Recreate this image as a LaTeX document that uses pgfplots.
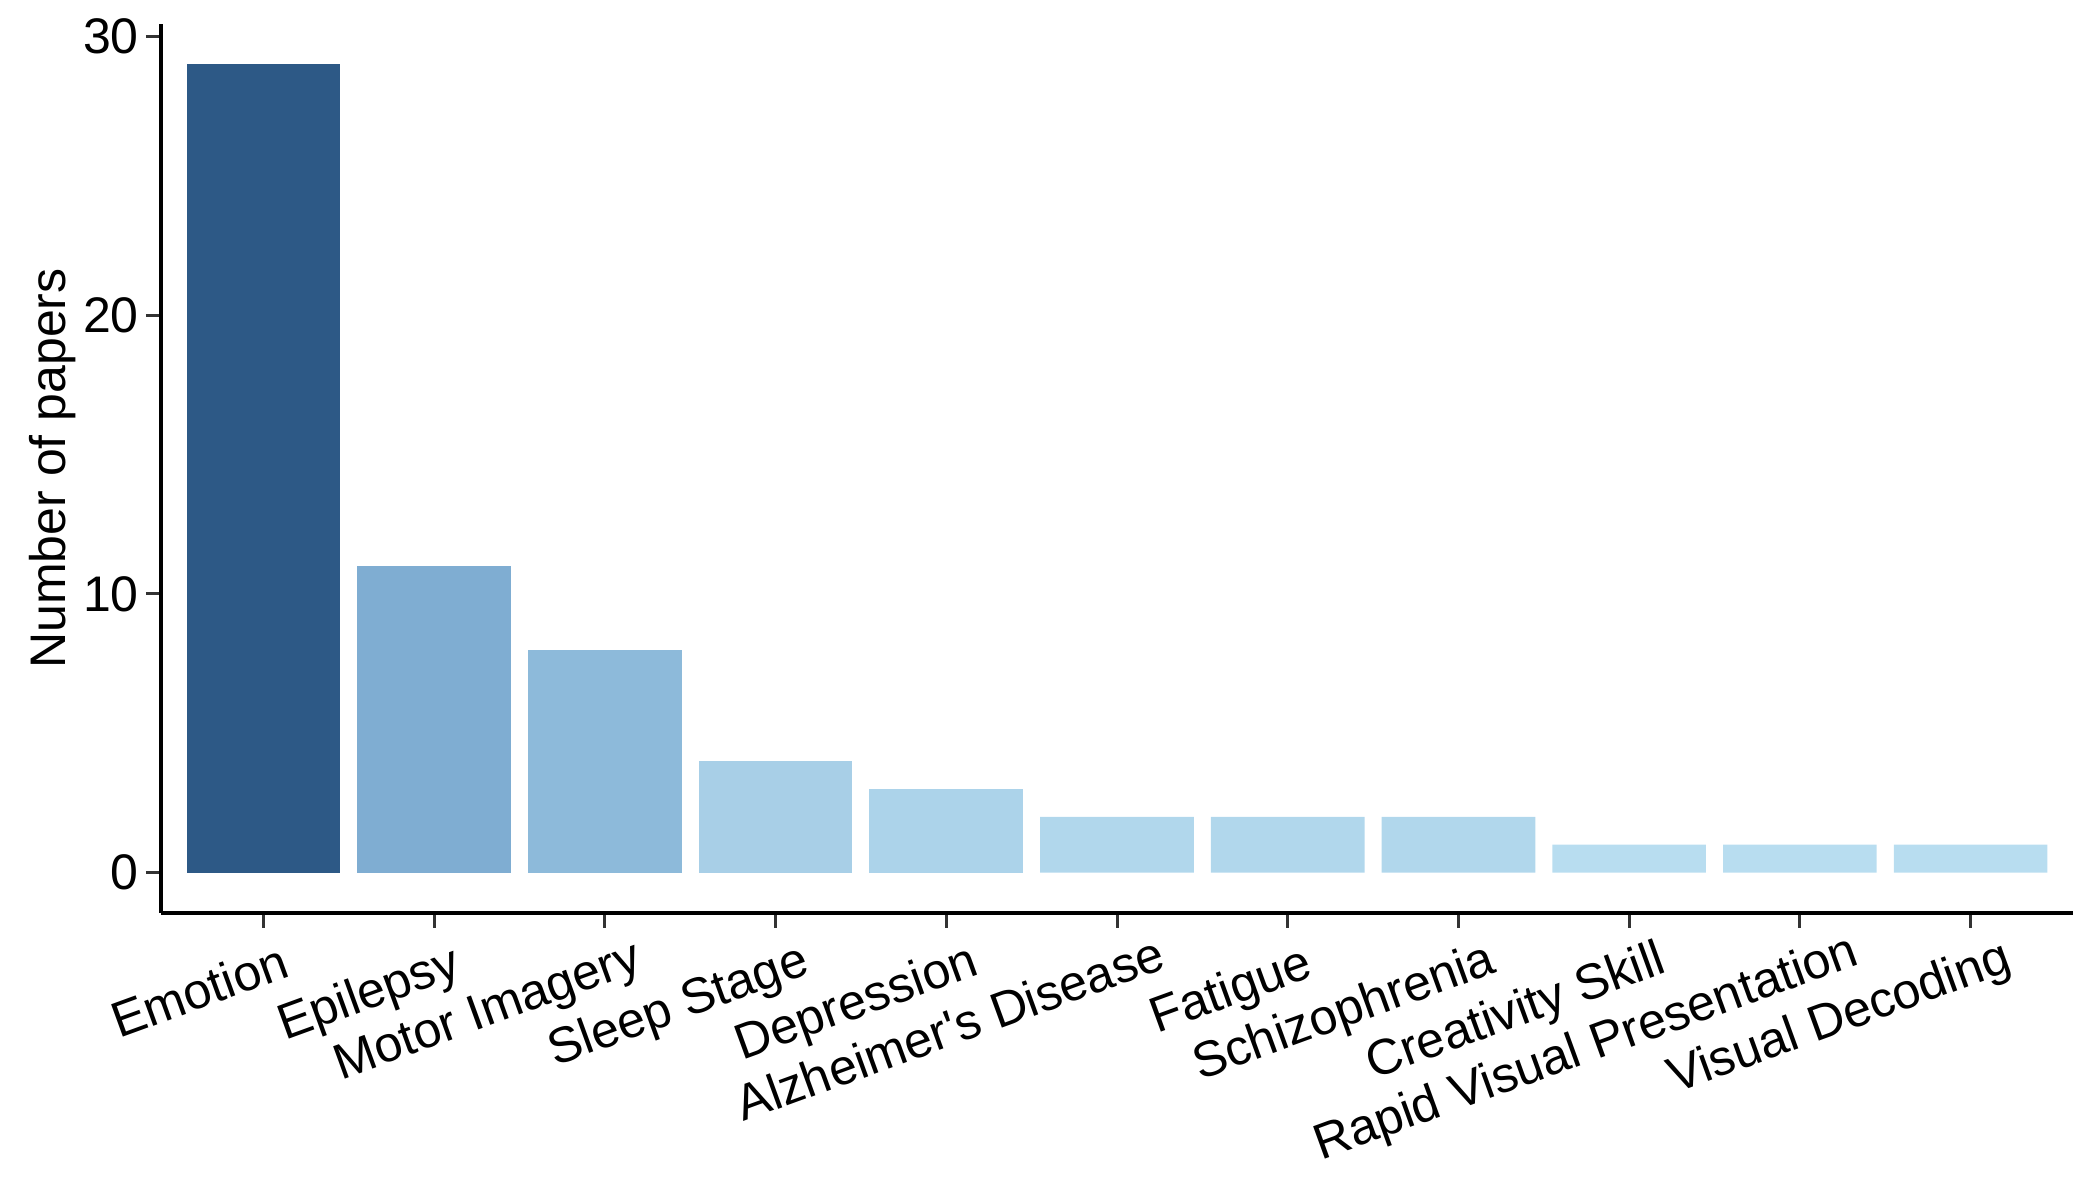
\documentclass[border=0pt]{standalone}
\usepackage{pgfplots}
\pgfplotsset{compat=1.18}
\usepackage{fontspec}
\setmainfont{Liberation Sans}
\usetikzlibrary{calc}
\definecolor{c29}{HTML}{2D5986}
\definecolor{c11}{HTML}{7FADD2}
\definecolor{c8}{HTML}{8DBADA}
\definecolor{c4}{HTML}{A8CFE7}
\definecolor{c3}{HTML}{ACD3EA}
\definecolor{c2}{HTML}{B1D7EC}
\definecolor{c1}{HTML}{B8DDF0}
\definecolor{tickgray}{HTML}{333333}
\newsavebox\hjbox
\newcommand{\hj}[1]{\sbox\hjbox{#1}\makebox[0.91\wd\hjbox][l]{\usebox\hjbox}}
\begin{document}
\begin{tikzpicture}
\fontsize{15}{18}\selectfont
\begin{axis}[
  scale only axis,
  width=573.6pt, height=266.7pt,
  xmin=-0.6, xmax=10.6,
  ymin=-1.45, ymax=30.45,
  axis lines*=left,
  axis line style={black, line width=1.2pt},
  every tick/.style={tickgray, line width=0.9pt},
  tick align=outside,
  major tick length=4.5pt,
  xtick={0,1,2,3,4,5,6,7,8,9,10},
  xticklabels={\hj{Emotion},\hj{Epilepsy},\hj{Motor Imagery},\hj{Sleep Stage},\hj{Depression},\hj{Alzheimer\textquotesingle s Disease},\hj{Fatigue},\hj{Schizophrenia},\hj{Creativity Skill},\hj{Rapid Visual Presentation},\hj{Visual Decoding}},
  xticklabel style={xshift=0.8pt, yshift=-4.3pt, rotate=20, anchor=north east, font=\fontsize{15}{18}\selectfont, inner sep=1pt},
  ytick={0,10,20,30},
  yticklabel style={xshift=3pt, font=\fontsize{15}{18}\selectfont},
  /pgf/number format/assume math mode=true,
  ylabel={Number of papers},
  ylabel shift=-8pt,
  ylabel style={font=\fontsize{15}{18}\selectfont},
  ybar, bar width=0.9, bar shift=0pt,
  every axis plot/.append style={draw=none},
  clip=false,
]
\addplot[fill=c29] coordinates {(0,29)};
\addplot[fill=c11] coordinates {(1,11)};
\addplot[fill=c8] coordinates {(2,8)};
\addplot[fill=c4] coordinates {(3,4)};
\addplot[fill=c3] coordinates {(4,3)};
\addplot[fill=c2] coordinates {(5,2) (6,2) (7,2)};
\addplot[fill=c1] coordinates {(8,1) (9,1) (10,1)};
\end{axis}
\pgfresetboundingbox
\path[use as bounding box] ($(current axis.south west)+(-48.3pt,-86.1pt)$) rectangle ($(current axis.north east)+(8.1pt,7.2pt)$);
\end{tikzpicture}
\end{document}
